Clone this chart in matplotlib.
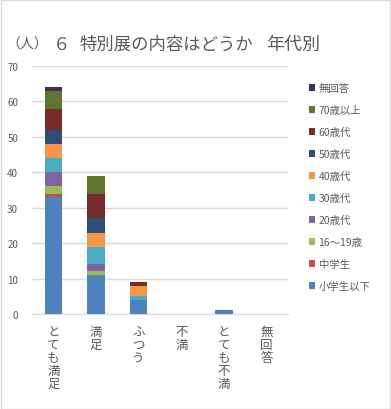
import matplotlib.pyplot as plt
from matplotlib.patches import Rectangle, Patch
import numpy as np

plt.rcParams['font.family'] = ['Noto Sans CJK JP', 'DejaVu Sans']

# categories (x axis)
categories = ['とても満足', '満足', 'ふつう', '不満', 'とても不満', '無回答']

# age groups, bottom to top of the stack
groups = ['小学生以下', '中学生', '16～19歳', '20歳代', '30歳代',
          '40歳代', '50歳代', '60歳代', '70歳以上', '無回答']
colors = ['#4F81BD', '#C0504D', '#9BBB59', '#8064A2', '#4BACC6',
          '#F79646', '#2C4D75', '#772C2A', '#5F7530', '#403152']

# counts per age group for each category
shogakusei = [33, 11, 4, 0, 1, 0]
chugakusei = [1, 0, 0, 0, 0, 0]
age16_19 = [2, 1, 0, 0, 0, 0]
age20s = [4, 2, 0, 0, 0, 0]
age30s = [4, 5, 1, 0, 0, 0]
age40s = [4, 4, 3, 0, 0, 0]
age50s = [4, 4, 0, 0, 0, 0]
age60s = [6, 7, 1, 0, 0, 0]
age70plus = [5, 5, 0, 0, 0, 0]
mukaito = [1, 0, 0, 0, 0, 0]

series = [shogakusei, chugakusei, age16_19, age20s, age30s,
          age40s, age50s, age60s, age70plus, mukaito]

W, H = 391, 410
fig = plt.figure(figsize=(W / 100, H / 100), dpi=100)
ax = fig.add_axes([32 / W, 1 - 315 / H, 256 / W, 248 / H])

x = np.arange(len(categories))
bottom = np.zeros(len(categories))
for vals, c in zip(series, colors):
    ax.bar(x, vals, 0.4, bottom=bottom, color=c, zorder=3)
    bottom += np.array(vals)

ax.set_xlim(-0.5, len(categories) - 0.5)
ax.set_ylim(0, 70)
ax.set_yticks(range(0, 71, 10))
ax.grid(axis='y', color='#d9d9d9', linewidth=1, zorder=0)
for s in ['top', 'right', 'left']:
    ax.spines[s].set_visible(False)
ax.spines['bottom'].set_color('#d9d9d9')
ax.tick_params(axis='both', length=0, colors='#595959')
ax.tick_params(axis='y', labelsize=7, pad=10)

# vertical (stacked character) tick labels
ax.set_xticks(x)
ax.set_xticklabels(['\n'.join(c) for c in categories], fontsize=9,
                   linespacing=1.0, va='top')
ax.tick_params(axis='x', pad=8)

# title pieces
tcol = '#595959'
fig.text(6 / W, 1 - 45 / H, '（人）', fontsize=10, color=tcol, va='center')
fig.text(53 / W, 1 - 45 / H, '６', fontsize=12.5, color=tcol, va='center')
fig.text(79 / W, 1 - 45 / H, '特別展の内容はどうか', fontsize=12.5, color=tcol, va='center')
fig.text(266 / W, 1 - 45 / H, '年代別', fontsize=13, color=tcol, va='center')

# legend (top entry first)
handles = [Patch(facecolor=c) for c in colors][::-1]
ax.legend(handles, groups[::-1], loc='upper left',
          bbox_to_anchor=(305 / W, 1 - 80 / H), bbox_transform=fig.transFigure,
          frameon=False, fontsize=7.5, labelcolor='#595959',
          handlelength=0.6, handleheight=0.6, handletextpad=0.3,
          labelspacing=1.15, borderaxespad=0)

# chart border
fig.patches.append(Rectangle((0.5 / W, 0.5 / H), 1 - 1.5 / W, 1 - 1.5 / H,
                             transform=fig.transFigure, fill=False,
                             edgecolor='#d9d9d9', linewidth=1))

fig.savefig('out.png', dpi=100)
